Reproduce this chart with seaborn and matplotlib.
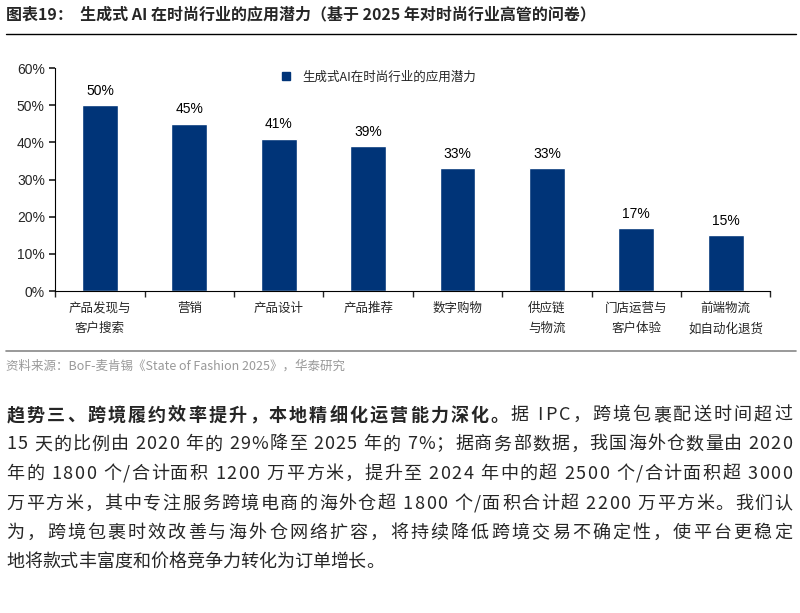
import matplotlib
matplotlib.use("Agg")
import matplotlib.pyplot as plt
import seaborn as sns
import numpy as np
import pandas as pd
from matplotlib.ticker import FixedLocator, PercentFormatter
from matplotlib.lines import Line2D

categories = ["产品发现与\n客户搜索", "营销", "产品设计", "产品推荐", "数字购物",
              "供应链\n与物流", "门店运营与\n客户体验", "前端物流\n如自动化退货"]
values = [50, 45, 41, 39, 33, 33, 17, 15]
series_name = "生成式AI在时尚行业的应用潜力"

sns.set_theme(style="white")
plt.rcParams['font.family'] = ['Noto Sans CJK SC', 'DejaVu Sans']

df = pd.DataFrame({"cat": categories, "val": values})

fig = plt.figure(figsize=(8, 6.13), dpi=100)
ax = fig.add_axes([0.069, 0.525, 0.894, 0.364])
navy = "#003478"
sns.barplot(data=df, x="cat", y="val", color=navy, width=0.4, saturation=1, ax=ax)

for i, v in enumerate(values):
    ax.text(i, v + 2, f"{v}%", ha="center", va="bottom", fontsize=10, color="black",
            family="Liberation Sans")

ax.set_ylim(0, 60)
ax.set_yticks(range(0, 61, 10))
ax.yaxis.set_major_formatter(PercentFormatter(decimals=0))
ax.set_xlim(-0.5, len(values) - 0.5)
ax.set_xlabel("")
ax.set_ylabel("")
ax.xaxis.set_minor_locator(FixedLocator(np.arange(-0.5, len(values), 1)))
ax.tick_params(axis="x", which="major", length=0, labelsize=9, pad=8)
ax.tick_params(axis="x", which="minor", length=4, direction="out", bottom=True)
ax.tick_params(axis="y", length=4, direction="out", left=True, labelsize=10)
for lab in ax.get_xticklabels():
    lab.set_linespacing(1.7)
for lab in ax.get_yticklabels():
    lab.set_family("Liberation Sans")
for s in ["top", "right"]:
    ax.spines[s].set_visible(False)
for s in ["left", "bottom"]:
    ax.spines[s].set_color("black")
    ax.spines[s].set_linewidth(0.8)

ax.legend(handles=[Line2D([], [], marker="s", color=navy, ls="", markersize=6)],
          labels=[series_name], loc="upper left", bbox_to_anchor=(0.29, 1.04),
          frameon=False, fontsize=9, handletextpad=0.3)

# title and rules
fig.text(0.008, 0.977, "图表19：  生成式 AI 在时尚行业的应用潜力（基于 2025 年对时尚行业高管的问卷）",
         fontsize=11.5, fontweight="bold", va="center", ha="left")
fig.add_artist(Line2D([0.008, 0.995], [0.945, 0.945], color="black", lw=1))
fig.add_artist(Line2D([0.008, 0.995], [0.427, 0.427], color="#888888", lw=1.2))
fig.text(0.008, 0.403, "资料来源：BoF-麦肯锡《State of Fashion 2025》，华泰研究",
         fontsize=9, color="#999999", va="center", ha="left")

para = [
    [("趋势三、跨境履约效率提升，本地精细化运营能力深化。", "bold"), ("据 IPC，跨境包裹配送时间超过", "normal")],
    [("15 天的比例由 2020 年的 29%降至 2025 年的 7%；据商务部数据，我国海外仓数量由 2020", "normal")],
    [("年的 1800 个/合计面积 1200 万平方米，提升至 2024 年中的超 2500 个/合计面积超 3000", "normal")],
    [("万平方米，其中专注服务跨境电商的海外仓超 1800 个/面积合计超 2200 万平方米。我们认", "normal")],
    [("为，跨境包裹时效改善与海外仓网络扩容，将持续降低跨境交易不确定性，使平台更稳定", "normal")],
    [("地将款式丰富度和价格竞争力转化为订单增长。", "normal")],
]
ys = [0.323, 0.275, 0.227, 0.178, 0.131, 0.083]
x0, x1 = 0.008, 0.99
fs = 13
fig.canvas.draw()
r = fig.canvas.get_renderer()
inv = fig.transFigure.inverted()


def char_width(c, weight):
    t = fig.text(0, 0, c if c != " " else "a a", fontsize=fs, fontweight=weight)
    w = t.get_window_extent(renderer=r).transformed(inv).width
    if c == " ":
        t2 = fig.text(0, 0, "aa", fontsize=fs, fontweight=weight)
        w -= t2.get_window_extent(renderer=r).transformed(inv).width
        t2.remove()
    t.remove()
    return w


for i, (y, segs) in enumerate(zip(ys, para)):
    chars = [(c, w) for s, w in segs for c in s]
    widths = [char_width(c, w) for c, w in chars]
    last = i == len(para) - 1
    gap = 0 if last else (x1 - x0 - sum(widths)) / (len(chars) - 1)
    x = x0
    for (c, w), cw in zip(chars, widths):
        if c != " ":
            fig.text(x, y, c, fontsize=fs, fontweight=w, va="center", ha="left")
        x += cw + gap

fig.savefig("out.png", dpi=100)
